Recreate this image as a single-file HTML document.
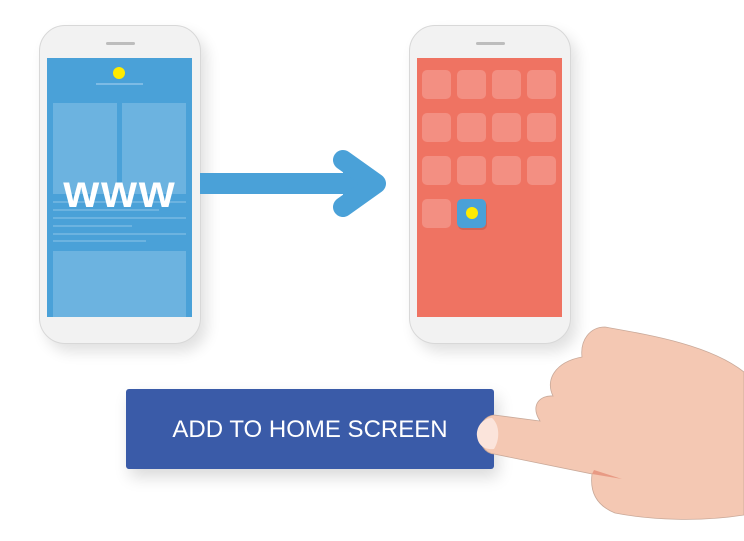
<!DOCTYPE html>
<html><head><style>
body{margin:0;width:744px;height:541px;background:#fff;overflow:hidden;position:relative;font-family:"Liberation Sans",sans-serif}
.ph{position:absolute;background:#f2f2f2;border:1px solid #d8d8d8;border-radius:26px;box-shadow:6px 8px 14px rgba(0,0,0,.12)}
.sp{position:absolute;height:3px;background:#bdbdbd;border-radius:2px}
.a{position:absolute}
</style></head><body>
<div class="ph" style="left:39px;top:25px;width:160px;height:317px"></div>
<div class="sp" style="left:106px;top:42px;width:29px"></div>
<div class="a" style="left:47px;top:58px;width:145px;height:259px;background:#4aa1d8"></div>
<div class="a" style="left:113px;top:67px;width:12px;height:12px;border-radius:50%;background:#ffeb00"></div>
<div class="a" style="left:96px;top:83px;width:47px;height:2px;background:#7dbbe5"></div>
<div class="a" style="left:53px;top:103px;width:64px;height:91px;background:#6cb3e0"></div>
<div class="a" style="left:122px;top:103px;width:64px;height:91px;background:#6cb3e0"></div>
<div class="a" style="left:53px;top:201px;width:133px;height:2px;background:#6cb3e0"></div>
<div class="a" style="left:53px;top:209px;width:106px;height:2px;background:#6cb3e0"></div>
<div class="a" style="left:53px;top:217px;width:133px;height:2px;background:#6cb3e0"></div>
<div class="a" style="left:53px;top:225px;width:79px;height:2px;background:#6cb3e0"></div>
<div class="a" style="left:53px;top:233px;width:133px;height:2px;background:#6cb3e0"></div>
<div class="a" style="left:53px;top:240px;width:93px;height:2px;background:#6cb3e0"></div>
<div class="a" style="left:53px;top:251px;width:133px;height:66px;background:#6cb3e0"></div>
<div class="a" style="left:60px;top:168px;width:120px;text-align:center;color:#fff;font-weight:bold;font-size:46px;line-height:46px;letter-spacing:2px">www</div>
<svg class="a" style="left:0;top:0" width="744" height="541">
<rect x="200" y="173" width="160" height="21" fill="#4aa1d8"/>
<polygon points="343,160 376,183.5 343,207" fill="#4aa1d8"/>
<polyline points="343,160 376,183.5 343,207" fill="none" stroke="#4aa1d8" stroke-width="20" stroke-linecap="round" stroke-linejoin="round"/>
</svg>
<div class="ph" style="left:409px;top:25px;width:160px;height:317px"></div>
<div class="sp" style="left:476px;top:42px;width:29px"></div>
<div class="a" style="left:417px;top:58px;width:145px;height:259px;background:#ef7362"></div>
<svg class="a" style="left:0;top:0" width="744" height="541">
<g fill="#f38f82">
<rect x="422" y="70" width="29" height="29" rx="5"/><rect x="457" y="70" width="29" height="29" rx="5"/><rect x="492" y="70" width="29" height="29" rx="5"/><rect x="527" y="70" width="29" height="29" rx="5"/>
<rect x="422" y="113" width="29" height="29" rx="5"/><rect x="457" y="113" width="29" height="29" rx="5"/><rect x="492" y="113" width="29" height="29" rx="5"/><rect x="527" y="113" width="29" height="29" rx="5"/>
<rect x="422" y="156" width="29" height="29" rx="5"/><rect x="457" y="156" width="29" height="29" rx="5"/><rect x="492" y="156" width="29" height="29" rx="5"/><rect x="527" y="156" width="29" height="29" rx="5"/>
<rect x="422" y="199" width="29" height="29" rx="5"/>
</g>
<rect x="458" y="201" width="29" height="29" rx="5" fill="#000" opacity=".12"/>
<rect x="457" y="199" width="29" height="29" rx="5" fill="#4aa1d8"/>
<circle cx="472" cy="213" r="6" fill="#ffeb00"/>
</svg>
<div class="a" style="left:126px;top:389px;width:368px;height:80px;background:#3a5ba8;border-radius:3px;box-shadow:4px 8px 16px rgba(0,0,0,.15);color:#fff;font-size:24px;line-height:82px;text-align:center">ADD TO HOME SCREEN</div>
<svg class="a" style="left:0;top:0" width="744" height="541">
<path d="M494,415 L540,421 C530,405 540,395 553,396 C545,380 555,362 582,357 C580,340 590,327 605,327 C650,335 710,345 744,372 L744,515 C700,522 650,520 615,513 C595,505 590,490 592,474 L494,454 C475,452 474,417 494,415 Z" fill="#f4c8b3" stroke="#c9a999" stroke-width=".8"/>
<path d="M492,418 C482,418 476,428 477,436 C478,445 484,450 494,449 C500,440 500,425 492,418 Z" fill="#fbe4db"/>
<path d="M592,474 L622,479 L594,470 Z" fill="#e89a84"/>
</svg>
</body></html>
